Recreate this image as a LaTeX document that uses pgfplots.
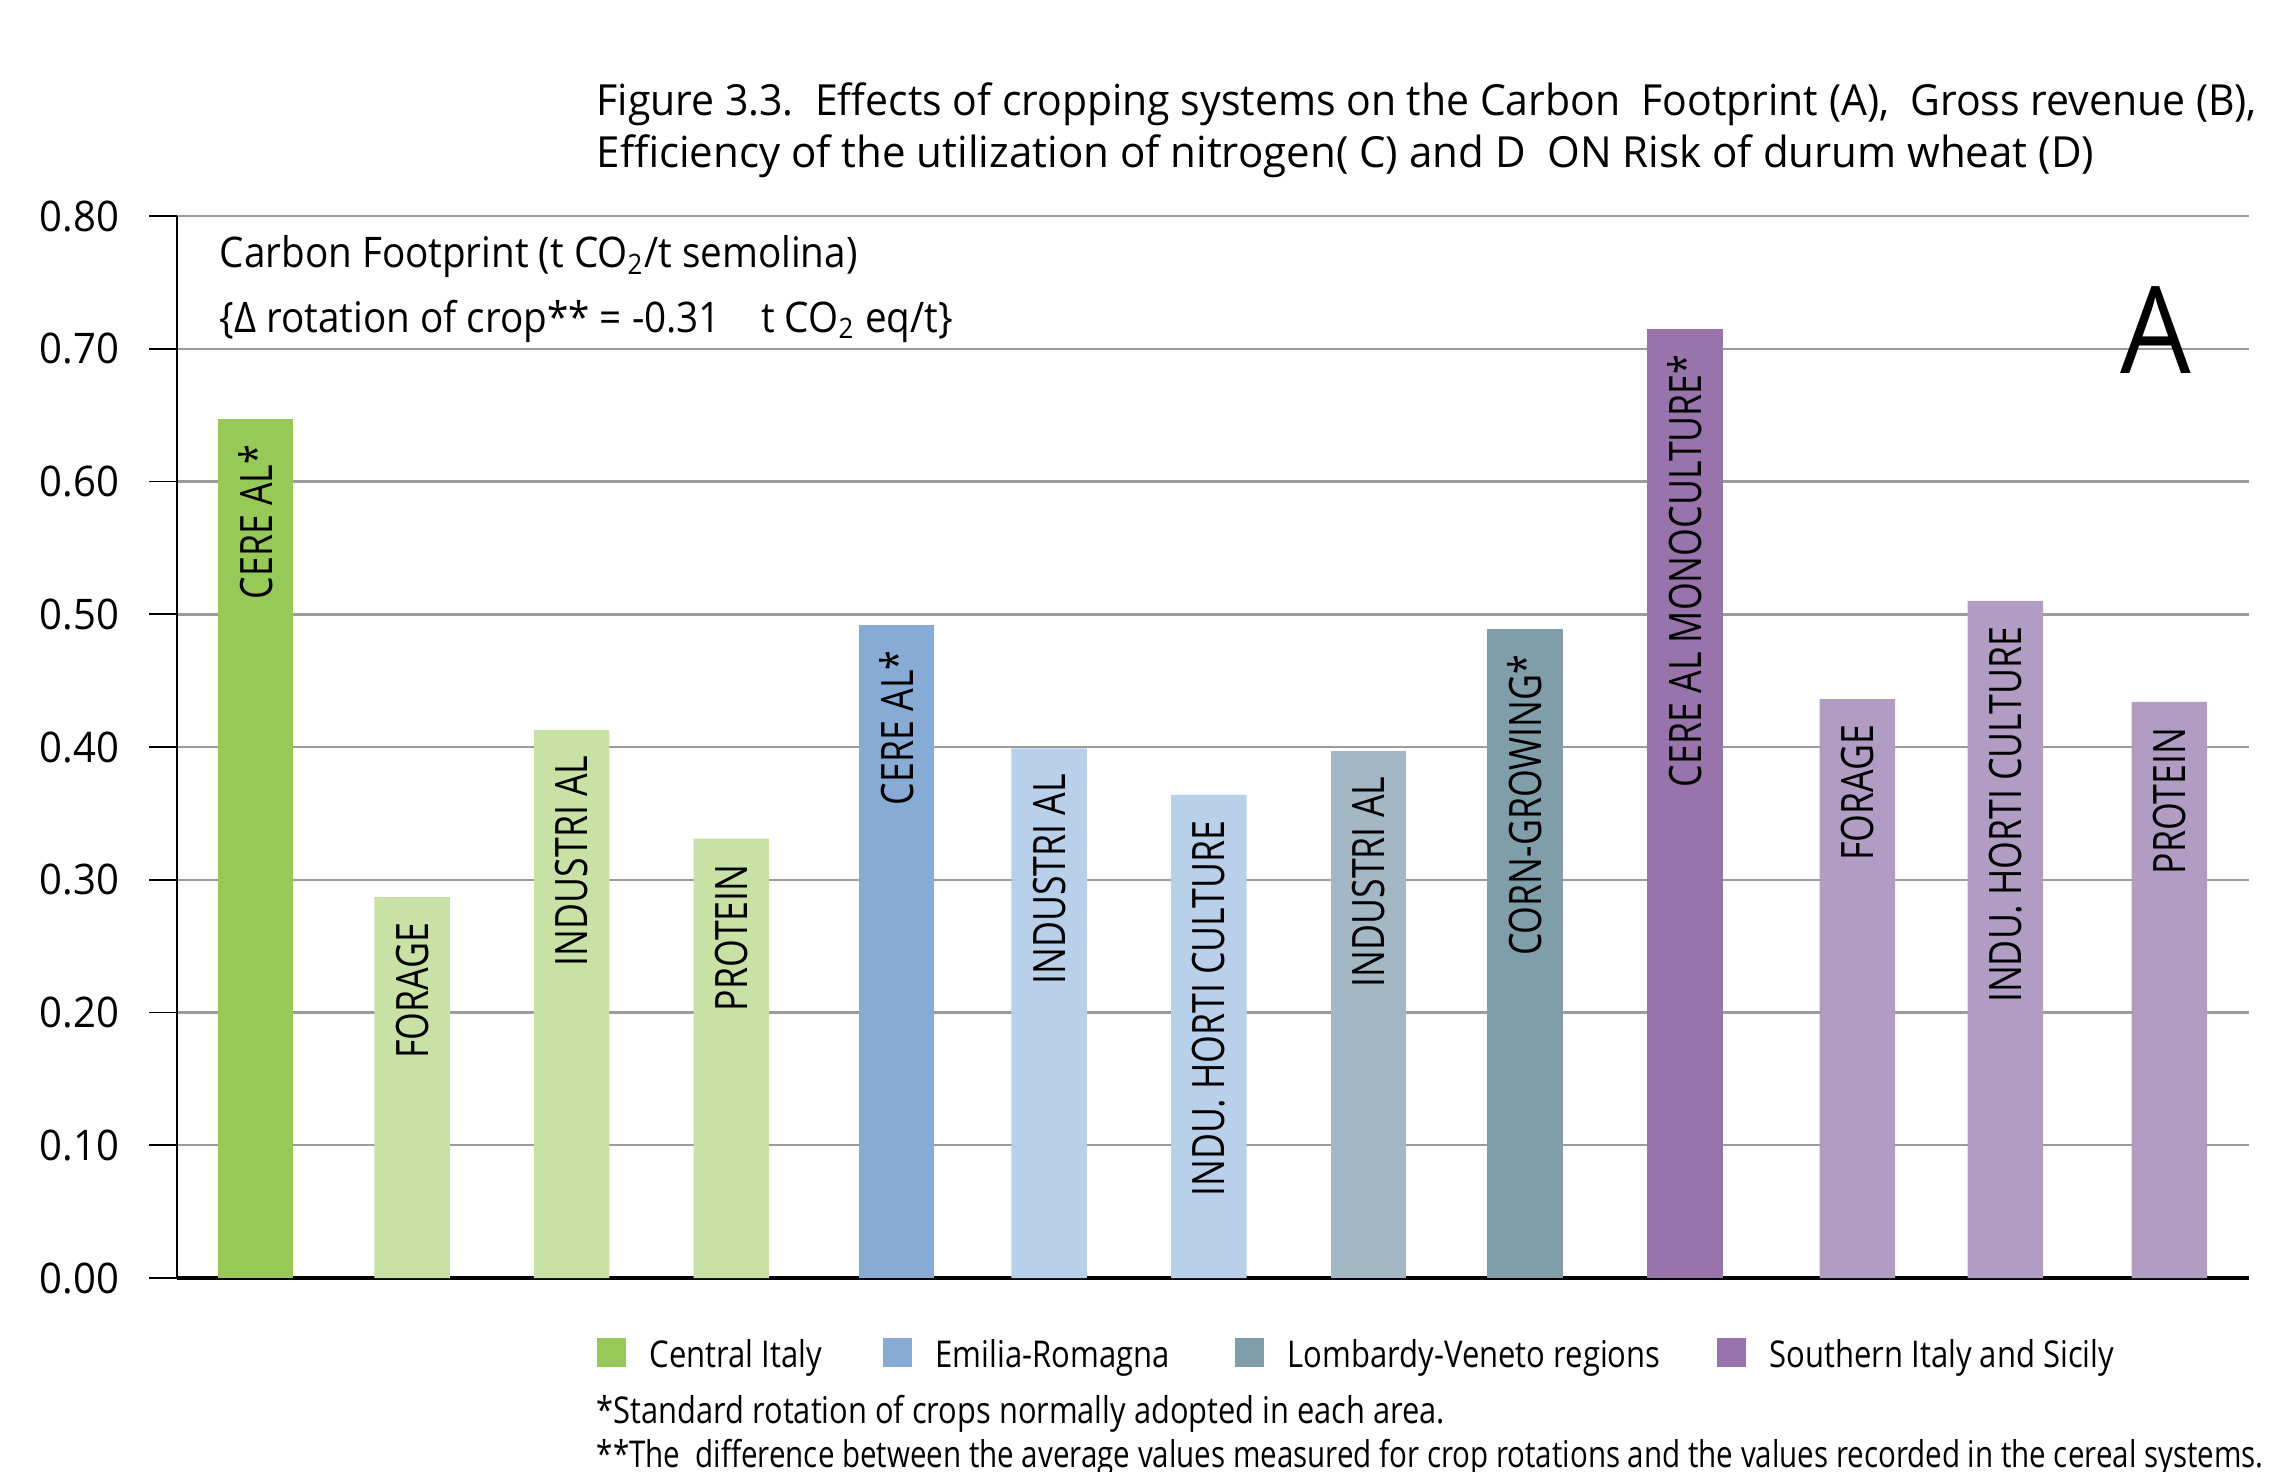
\documentclass[border=0pt]{standalone}
\usepackage{fontspec}
\setmainfont{Open Sans}[FakeStretch=0.8]
\newfontfamily\titlefontA{Open Sans}[FakeStretch=0.955]
\newfontfamily\titlefontB{Open Sans}[FakeStretch=0.98]
\newfontfamily\notefont{Open Sans}[FakeStretch=0.916]
\newfontfamily\legfont{Open Sans}[FakeStretch=0.84]
\newfontfamily\footfont{Open Sans}[FakeStretch=0.835]
\newfontfamily\tickfont{Open Sans}[FakeStretch=0.95]
\newfontfamily\bigfont{Open Sans}[FakeStretch=0.92]
\usepackage{pgfplots}
\usepackage{pgfplotstable}
\pgfplotsset{compat=1.18}

% region colours (dark = standard rotation, light = other rotations)
\definecolor{ciDark}{RGB}{150,201,87}
\definecolor{ciLight}{RGB}{200,225,165}
\definecolor{erDark}{RGB}{136,171,214}
\definecolor{erLight}{RGB}{185,208,234}
\definecolor{lvDark}{RGB}{128,157,170}
\definecolor{lvLight}{RGB}{163,184,196}
\definecolor{siDark}{RGB}{152,115,172}
\definecolor{siLight}{RGB}{177,157,196}
\definecolor{gridgray}{RGB}{155,155,155}

% carbon footprint, t CO2 / t semolina
\pgfplotstableread{
x      y      label
0.000  0.647  {CERE AL*}
}\ciDarkT
\pgfplotstableread{
x      y      label
0.982  0.287  FORAGE
1.982  0.413  {INDUSTRI AL}
2.982  0.331  PROTEIN
}\ciLightT
\pgfplotstableread{
x      y      label
4.018  0.492  {CERE AL*}
}\erDarkT
\pgfplotstableread{
x      y      label
4.973  0.399  {INDUSTRI AL}
5.973  0.364  {INDU. HORTI CULTURE}
}\erLightT
\pgfplotstableread{
x      y      label
6.973  0.397  {INDUSTRI AL}
}\lvLightT
\pgfplotstableread{
x      y      label
7.955  0.489  {CORN-GROWING*}
}\lvDarkT
\pgfplotstableread{
x      y      label
8.955  0.715  {CERE AL MONOCULTURE*}
}\siDarkT
\pgfplotstableread{
x      y      label
10.036 0.436  FORAGE
10.964 0.510  {INDU. HORTI CULTURE}
11.991 0.434  PROTEIN
}\siLightT

\pgfplotsset{
  cbar/.style={
    ybar, bar width=0.473, bar shift=0pt, draw=none, fill=#1,
    nodes near coords, point meta=explicit symbolic,
    every node near coord/.append style={
      yshift=-0.25cm, rotate=90, anchor=east, inner sep=0pt,
      text=black, font=\fontsize{12.7}{14}\selectfont},
    legend image code/.code={\fill[##1] (0cm,-0.11cm) rectangle (0.29cm,0.18cm);},
  },
}

\begin{document}
\begin{tikzpicture}
\useasboundingbox (0,0) rectangle (22.75cm,14.71cm);

\begin{axis}[
  at={(1.77cm,1.93cm)}, anchor=south west,
  scale only axis, width=20.72cm, height=10.62cm,
  xmin=-0.491, xmax=12.49, ymin=0, ymax=0.8,
  axis x line*=bottom, axis y line*=left,
  axis line style={-},
  x axis line style={line width=1.1pt},
  y axis line style={line width=0.5pt},
  xtick=\empty,
  ytick={0,0.1,0.2,0.3,0.4,0.5,0.6,0.7,0.8},
  ymajorgrids, grid style={gridgray, line width=0.7pt},
  tick align=outside, major tick length=0.28cm,
  ytick style={black, line width=0.5pt},
  /pgf/number format/assume math mode=true,
  yticklabel style={/pgf/number format/.cd, fixed, fixed zerofill, precision=2,
    /tikz/.cd, font=\tickfont\fontsize{12}{14}\selectfont, inner sep=0pt, xshift=-0.29cm},
  legend columns=4,
  legend style={at={(0.20222,-0.0730)}, anchor=west, draw=none, fill=none,
    inner sep=0pt, font=\legfont\fontsize{10.5}{12}\selectfont,
    nodes={inner sep=0pt},
    /tikz/every odd column/.style={column sep=0.24cm}},
]
\addplot[cbar=ciDark] table[x=x, y=y, meta=label] {\ciDarkT};
\addlegendentry{\makebox[2.33cm][l]{Central Italy}}
\addplot[cbar=ciLight, forget plot] table[x=x, y=y, meta=label] {\ciLightT};
\addplot[cbar=erDark] table[x=x, y=y, meta=label] {\erDarkT};
\addlegendentry{\makebox[2.99cm][l]{Emilia-Romagna}}
\addplot[cbar=erLight, forget plot] table[x=x, y=y, meta=label] {\erLightT};
\addplot[cbar=lvLight, forget plot] table[x=x, y=y, meta=label] {\lvLightT};
\addplot[cbar=lvDark] table[x=x, y=y, meta=label] {\lvDarkT};
\addlegendentry{\makebox[4.29cm][l]{Lombardy-Veneto regions}}
\addplot[cbar=siDark] table[x=x, y=y, meta=label] {\siDarkT};
\addlegendentry{Southern Italy and Sicily}
\addplot[cbar=siLight, forget plot] table[x=x, y=y, meta=label] {\siLightT};
\end{axis}

% title
\node[anchor=base west, inner sep=0pt, font=\titlefontA\fontsize{12.2}{14}\selectfont] at (5.96cm,13.55cm)
  {Figure 3.3.~~Effects of cropping systems on the Carbon~~Footprint (A),~~Gross revenue (B),};
\node[anchor=base west, inner sep=0pt, font=\titlefontB\fontsize{12.2}{14}\selectfont] at (5.96cm,13.03cm)
  {Efficiency of the utilization of nitrogen( C) and D~~ON Risk of durum wheat (D)};

% panel annotation
\node[anchor=base west, inner sep=0pt, font=\notefont\fontsize{12}{14}\selectfont] at (2.19cm,12.03cm)
  {Carbon Footprint (t CO\textsubscript{2}/t semolina)};
\node[anchor=base west, inner sep=0pt, font=\notefont\fontsize{12}{14}\selectfont] at (2.19cm,11.39cm)
  {\{Δ rotation of crop** = -0.31~~~~t CO\textsubscript{2} eq/t\}};
\node[anchor=base west, inner sep=0pt, font=\bigfont\fontsize{34.5}{40}\selectfont] at (21.20cm,10.97cm) {A};

% footnotes
\node[anchor=base west, inner sep=0pt, font=\footfont\fontsize{10.5}{12}\selectfont] at (5.96cm,0.48cm)
  {*Standard rotation of crops normally adopted in each area.};
\node[anchor=base west, inner sep=0pt, font=\fontsize{10.5}{12}\selectfont] at (5.96cm,0.04cm)
  {**The~ difference between the average values measured for crop rotations and the values recorded in the cereal systems.};
\end{tikzpicture}
\end{document}
